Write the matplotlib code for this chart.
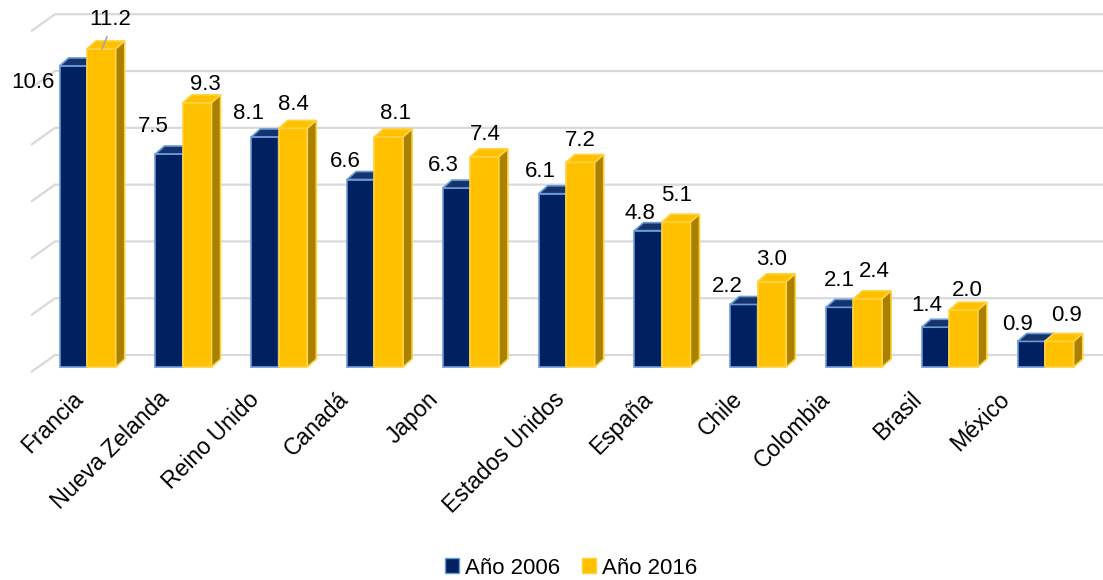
import numpy as np
import matplotlib.pyplot as plt
from matplotlib.patches import Polygon, Patch

plt.rcParams['font.family'] = ['Liberation Sans', 'DejaVu Sans']

paises = ['Francia', 'Nueva Zelanda', 'Reino Unido', 'Canadá', 'Japon',
          'Estados Unidos', 'España', 'Chile', 'Colombia', 'Brasil', 'México']
anio_2006 = [10.6, 7.5, 8.1, 6.6, 6.3, 6.1, 4.8, 2.2, 2.1, 1.4, 0.9]
anio_2016 = [11.2, 9.3, 8.4, 8.1, 7.4, 7.2, 5.1, 3.0, 2.4, 2.0, 0.9]
gridvals = [0, 2, 4, 6, 8, 10, 12]

# label nudges (category units, value units) relative to top of each bar
nudge_06 = [(-0.42, -0.6), (-0.16, 0.95), (-0.17, 0.84), (-0.16, 0.65), (-0.14, 0.78),
            (-0.12, 0.77), (-0.09, 0.59), (-0.17, 0.65), (0.0, 0.96), (-0.09, 0.75), (-0.14, 0.61)]
nudge_16 = [(0.095, 1.02), (0.09, 0.63), (0.0, 0.84), (0.07, 0.84), (0.01, 0.77),
            (0.0, 0.79), (0.0, 0.92), (0.0, 0.8), (0.07, 0.95), (0.04, 0.68), (0.07, 0.9)]
tick_dx = [-16, -25, -31, -37, -43, -13, -21, -27, -35, -39, -47]  # px

navy = '#002060'
navy_top = '#17336e'
navy_edge = '#6a9bd8'
gold = '#FFC000'
gold_side = '#a98000'
gold_edge = '#ffd23f'

fig = plt.figure(figsize=(11.03, 5.8), dpi=100)
ax = fig.add_axes([0, 0, 1, 1])
ax.set_xlim(-0.908, 10.606)
ax.set_ylim(-7.5, 12.92)
ax.axis('off')

px = 1 / 95.8   # one pixel in category units
ddx, ddy = 9 * px, 0.28

# back wall gridlines with the slanted side-wall part
for v in gridvals:
    ax.plot([-0.584, -0.334, 10.606], [v - 0.18, v + 0.42, v + 0.42],
            color='#d9d9d9', lw=1.6, zorder=0, solid_capstyle='butt')


def bar3d(x0, w, h, front, top, side, edge, z):
    ax.bar(x0, h, width=w, align='edge', color=front, edgecolor=edge, lw=1.2, zorder=z)
    ax.add_patch(Polygon([(x0, h), (x0 + w, h), (x0 + w + ddx, h + ddy), (x0 + ddx, h + ddy)],
                         closed=True, fc=top, ec=edge, lw=1.2, zorder=z))
    ax.add_patch(Polygon([(x0 + w, 0), (x0 + w, h), (x0 + w + ddx, h + ddy), (x0 + w + ddx, ddy)],
                         closed=True, fc=side, ec=edge, lw=1.2, zorder=z))


x = np.arange(len(paises))
wb, wy = 0.285, 0.30
for i in x:
    bar3d(i - wb, wb, anio_2006[i], navy, navy_top, navy, navy_edge, 2 + i * 2)
    bar3d(i, wy, anio_2016[i], gold, gold, gold_side, gold_edge, 3 + i * 2)

for i in x:
    cb = i - wb / 2
    cy = i + wy / 2
    ax.text(cb + nudge_06[i][0], anio_2006[i] + nudge_06[i][1], f'{anio_2006[i]:.1f}',
            ha='center', va='center', fontsize=16, color='black', zorder=30)
    ax.text(cy + nudge_16[i][0], anio_2016[i] + nudge_16[i][1], f'{anio_2016[i]:.1f}',
            ha='center', va='center', fontsize=16, color='black', zorder=30)
    ax.text(i + tick_dx[i] * px, -0.72, paises[i], rotation=45, rotation_mode='anchor',
            ha='right', va='top', fontsize=16.6, color='black')

# leader line for Francia 2016
ax.plot([0.209, 0.157], [11.62, 11.2], color='#a6a6a6', lw=1.2, zorder=40)

handles = [Patch(facecolor=navy, edgecolor=navy_edge, label='Año 2006'),
           Patch(facecolor=gold, edgecolor=gold_edge, label='Año 2016')]
fig.legend(handles=handles, loc='center', bbox_to_anchor=(571 / 1103, 1 - 568 / 580),
           ncol=2, frameon=False, fontsize=16, handlelength=0.65, handleheight=0.65,
           handletextpad=0.25, columnspacing=1.0)

fig.savefig('out.png', dpi=100)
